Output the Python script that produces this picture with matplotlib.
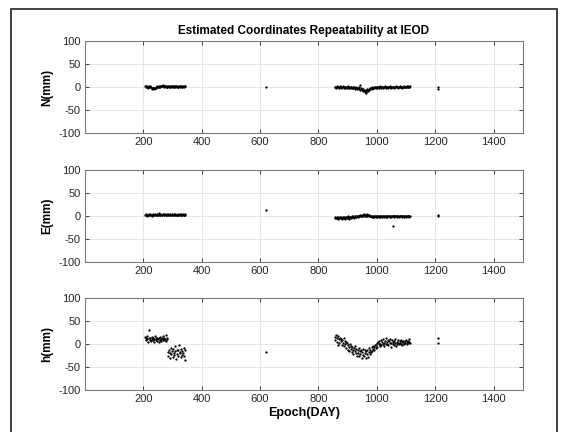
import numpy as np
import matplotlib
matplotlib.use('Agg')
import matplotlib.pyplot as plt
from matplotlib.patches import Rectangle

plt.rcParams['font.family'] = ['Liberation Sans', 'DejaVu Sans']
plt.rcParams['axes.unicode_minus'] = False

# epochs (days) of the two observation campaigns, every second day
days1 = list(range(206, 345, 2))
days2 = list(range(856, 1115, 2))

# North component (mm)
N1 = [2, 3, 1, 0, 2, -1, 3, 1, 0, 2, 1, -2, -3, -1, -2, -3, -1, -2, 0, -1,
      1, 2, 0, 1, 3, 2, 1, 2, 3, 2, 4, 2, 1, 3, 2, 1, 2, 0, 1, 2,
      3, 1, 2, 0, 1, 2, 3, 1, 2, 2, 0, 1, 3, 2, 1, 2, 0, 1, 3, 2,
      1, 2, 3, 1, 0, 2, 3, 1, 2, 2]
N2 = [0, 1, -1, 2, 0, 1, 0, -1, 1, 2,
      0, -1, 1, 0, 2, -1, 0, 1, -2, 0,
      1, -1, 0, 2, -1, 0, -2, 1, 0, -1,
      -2, 0, -1, 1, -3, -1, 0, -2, -4, -1,
      -2, 1, -3, -5, 6, -2, -4, -6, -3, -8,
      -5, -10, -7, -12, -6, -9, -4, -7, -3, -5,
      -2, -4, -1, -3, 0, -2, -1, 1, -1, 0,
      -2, 0, 1, -1, 0, 1, -1, 0, 2, 0,
      -1, 1, 0, -1, 1, 0, 2, -1, 0, 1,
      0, -1, 1, 0, 2, 1, -1, 0, 1, 0,
      1, 0, -1, 1, 0, 2, 1, 0, 1, -1,
      0, 1, 2, 0, 1, -1, 0, 1, 0, 2,
      1, 0, 1, 2, 0, 1, 2, 0, 1, 2]

# East component (mm)
E1 = [2, 4, 3, 1, 3, 2, 4, 3, 2, 5, 3, 2, 1, 3, 4, 2, 3, 5, 3, 2,
      3, 4, 2, 3, 6, 3, 4, 2, 3, 3, 5, 4, 2, 3, 4, 3, 2, 4, 3, 3,
      4, 2, 3, 5, 3, 2, 4, 3, 3, 2, 4, 3, 5, 3, 2, 3, 4, 2, 3, 4,
      3, 2, 4, 3, 3, 5, 2, 3, 4, 3]
E2 = [-4, -3, -5, -2, -4, -6, -3, -5, -4, -2,
      -5, -3, -6, -4, -2, -5, -3, -7, -4, -3,
      -2, -5, -4, -1, -3, -6, -2, -4, -3, -1,
      -3, -2, 0, -4, -1, -2, 1, -3, -1, 0,
      -2, 1, -1, 2, 0, -1, 3, 1, 0, 2,
      4, 1, 3, 0, 2, 5, 1, 3, 0, 2,
      1, -1, 0, -2, -1, 0, -2, -1, -3, -1,
      -2, 0, -1, -2, -1, -3, -1, 0, -2, -1,
      -1, -2, 0, -1, -2, -1, 0, -2, -1, -1,
      -2, -1, 0, -1, -2, -1, 0, -2, -1, -1,
      0, -1, -2, -1, 0, -1, -2, 0, -1, -1,
      -2, -1, 0, -1, -1, -2, 0, -1, -2, -1,
      -1, 0, -2, -1, 0, -1, -1, -2, 0, -1]

# Height component (mm)
h1 = [15, 8, 12, 18, 10, 5, 30, 14, 9, 12, 6, 16, 11, 8, 13, 4, 10, 17, 9, 12,
      7, 14, 11, 5, 13, 9, 15, 10, 6, 12, 18, 8, 11, 14, 9, 20, 7, 12, 10,
      -18, -25, -12, -30, -20, -8, -22, -15, -28, -10, -19, -24, -5, -16, -33,
      -21, -12, -26, -14, -2, -20, -17, -29, -11, -23, -15, -19, -8, -25, -13, -35]
h2 = [15, 8, 20, 5, 12, -2, 18, 10, 3, 14,
      6, 11, -3, 9, 2, 13, -5, 7, 0, 4,
      -8, 3, -12, -2, -6, -15, 1, -10, -4, -18,
      -7, -13, -22, -9, -16, -5, -20, -11, -25, -14,
      -19, -8, -27, -15, -21, -12, -30, -17, -23, -10,
      -26, -14, -20, -31, -16, -22, -12, -28, -18, -9,
      -21, -13, -17, -6, -15, -10, -4, -12, -7, -2,
      -9, -3, 2, -6, 4, -1, 6, -4, 1, 8,
      -2, 5, 0, 10, 3, -5, 7, 1, 12, -1,
      4, 9, -3, 6, 2, 11, -6, 3, 8, 0,
      5, -2, 7, 2, 10, -4, 4, 1, 9, 3,
      -1, 6, 2, 8, 0, 5, -3, 7, 3, 1,
      6, 2, 9, 4, 0, 7, 3, 10, 5, 2]

# isolated epochs
extra_days = [620, 1210, 1211]
N_extra = [0, 1, -3]
E_extra = [13, 1, 2]
h_extra = [-18, 12, 3]
E_out_day = [1054]
E_out = [-21]

panels = [
    ('N(mm)', N1, N2, N_extra),
    ('E(mm)', E1, E2, E_extra),
    ('h(mm)', h1, h2, h_extra),
]

fig = plt.figure(figsize=(5.72, 4.32), dpi=100)
fig.patches.append(Rectangle((11 / 572, -0.1), 546 / 572, 1.1 - 9 / 432,
                             transform=fig.transFigure, fill=False,
                             edgecolor='#333333', linewidth=1.3))

bottoms = [0.6914, 0.3935, 0.0972]
axes = []
for (lab, s1, s2, sx), b in zip(panels, bottoms):
    ax = fig.add_axes([0.1486, b, 0.7652, 0.213])
    ax.plot(days1, s1, '.', color='k', ms=3.3, mew=0)
    ax.plot(days2, s2, '.', color='k', ms=3.3, mew=0)
    ax.plot(extra_days, sx, '.', color='k', ms=3.3, mew=0)
    ax.set_xlim(0, 1500)
    ax.set_ylim(-100, 100)
    ax.set_xticks([200, 400, 600, 800, 1000, 1200, 1400])
    ax.set_yticks([-100, -50, 0, 50, 100])
    ax.grid(True, color='#e3e3e3', linewidth=0.6)
    ax.set_axisbelow(True)
    ax.tick_params(direction='in', length=3, width=0.6, top=True, right=True,
                   labelsize=8, colors='#262626', pad=3)
    for sp in ax.spines.values():
        sp.set_color('#7a7a7a')
        sp.set_linewidth(0.8)
    ax.set_ylabel(lab, fontsize=8.5, fontweight='bold', labelpad=4)
    axes.append(ax)

axes[1].plot(E_out_day, E_out, '.', color='k', ms=3.3, mew=0)
axes[0].set_title('Estimated Coordinates Repeatability at IEOD',
                  fontsize=8.5, fontweight='bold', pad=5)
axes[2].set_xlabel('Epoch(DAY)', fontsize=9, fontweight='bold', labelpad=2)

fig.savefig('out.png', dpi=100)
